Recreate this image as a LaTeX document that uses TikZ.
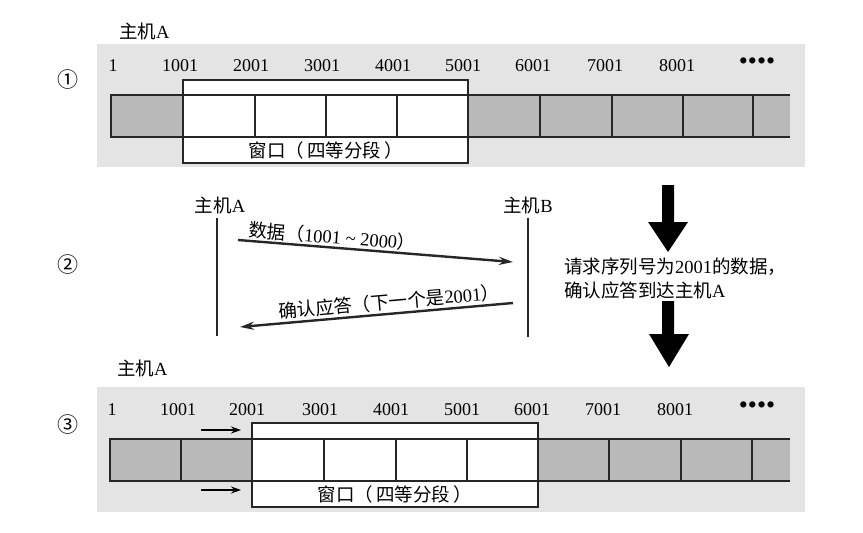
\documentclass[tikz,border=0pt]{standalone}
\usepackage{fontspec}
\setmainfont{Liberation Serif}
\newfontfamily\cjk{Noto Sans CJK SC}
\usetikzlibrary{arrows.meta}
\definecolor{bgc}{HTML}{E4E4E4}
\definecolor{cellc}{HTML}{B9B9B9}
\begin{document}
\begin{tikzpicture}[x=1pt,y=-1pt,
  bgbox/.style={fill=bgc,draw=none},
  barline/.style={draw=black!85,line width=1.6pt},
  winbox/.style={draw=black!85,line width=1.6pt,fill=white},
  num/.style={font=\fontsize{18}{18}\selectfont,inner sep=0pt,anchor=center},
  lbl/.style={font=\fontsize{18.5}{20}\selectfont,inner sep=0pt},
  circnum/.style={font=\cjk\fontsize{21}{21}\selectfont,inner sep=0pt},
  hostline/.style={draw=black!85,line width=2.8pt},
  msg/.style={draw=black!85,line width=2.4pt,-{Stealth[length=14pt,width=8pt]}},
  smallarrow/.style={draw=black,line width=2.2pt,-{Stealth[length=10pt,width=7pt]}},
  bigarrow/.style={fill=black,draw=none}
]
\useasboundingbox (0,0) rectangle (863,533);

% ---------- part 1 ----------
\node[circnum] (c1) at (68,80) {①};
\node[lbl,anchor=west] (hostA1) at (119,31) {{\cjk 主机}A};
\fill[bgbox] (97,44) rectangle (805,167);
\fill[cellc] (111,95) rectangle (790,137);
\filldraw[winbox] (183,80) rectangle (468,163);
\draw[barline] (790,95) -- (111,95) -- (111,137) -- (790,137);
\foreach \x in {183,255,326,397,468,540,612,683,753}
  \draw[barline] (\x,95) -- (\x,137);
\foreach \x/\t [count=\i] in {113/1,180/1001,251/2001,322/3001,393/4001,463/5001,533/6001,605/7001,677/8001}
  \node[num] (n1-\i) at (\x,66) {\t};
\node[num] (dots1) at (757,64) {\fontsize{26}{26}\selectfont ••••};
\node[lbl] (win1) at (326,150) {\cjk 窗口（\,四等分段\,）};

% ---------- part 2 ----------
\node[circnum] (c2) at (68,265) {②};
\node[lbl] (hA) at (220,205) {{\cjk 主机}A};
\node[lbl] (hB) at (528,205) {{\cjk 主机}B};
\coordinate (aTop) at (217,218);
\coordinate (aBot) at (217,336);
\coordinate (bTop) at (528,218);
\coordinate (bBot) at (528,337);
\draw[hostline] (aTop) -- (aBot);
\draw[hostline] (bTop) -- (bBot);
\coordinate (m1s) at (238,240);
\coordinate (m1e) at (513,262);
\coordinate (m2s) at (513,303);
\coordinate (m2e) at (240,327);
\draw[msg] (m1s) -- node[pos=0.34,above=1pt,sloped,lbl] (l1) {{\cjk 数据（}1001 \textasciitilde{} 2000{\cjk ）}} (m1e);
\draw[msg] (m2s) -- node[pos=0.45,above=2pt,sloped,lbl] (l2) {{\cjk 确认应答（下一个是}2001{\cjk ）}} (m2e);

% big arrows
\fill[bigarrow] (662,185) -- (674,185) -- (674,222) -- (688,222) -- (668,252) -- (648,222) -- (662,222) -- cycle;
\fill[bigarrow] (662,301) -- (674,301) -- (674,334) -- (689,334) -- (669,367) -- (649,334) -- (662,334) -- cycle;
\node[lbl,anchor=west] (req1) at (564,267) {{\cjk 请求序列号为}2001{\cjk 的数据，}};
\node[lbl,anchor=west] (req2) at (564,290) {{\cjk 确认应答到达主机}A};

% ---------- part 3 ----------
\node[circnum] (c3) at (68,425) {③};
\node[lbl,anchor=west] (hostA3) at (117,368) {{\cjk 主机}A};
\fill[bgbox] (97,387) rectangle (805,512);
\fill[cellc] (110,439) rectangle (790,481);
\filldraw[winbox] (252,423) rectangle (538,507);
\draw[barline] (790,439) -- (110,439) -- (110,481) -- (790,481);
\foreach \x in {181,252,324,396,467,538,609,681,752}
  \draw[barline] (\x,439) -- (\x,481);
\foreach \x/\t [count=\i] in {112/1,178/1001,247/2001,320/3001,391/4001,462/5001,532/6001,603/7001,675/8001}
  \node[num] (n3-\i) at (\x,410) {\t};
\node[num] (dots3) at (757,408) {\fontsize{26}{26}\selectfont ••••};
\node[lbl] (win3) at (395,494) {\cjk 窗口（\,四等分段\,）};
\coordinate (s1s) at (201,430);
\coordinate (s1e) at (241,430);
\coordinate (s2s) at (201,490);
\coordinate (s2e) at (241,490);
\draw[smallarrow] (s1s) -- (s1e);
\draw[smallarrow] (s2s) -- (s2e);
\end{tikzpicture}
\end{document}
